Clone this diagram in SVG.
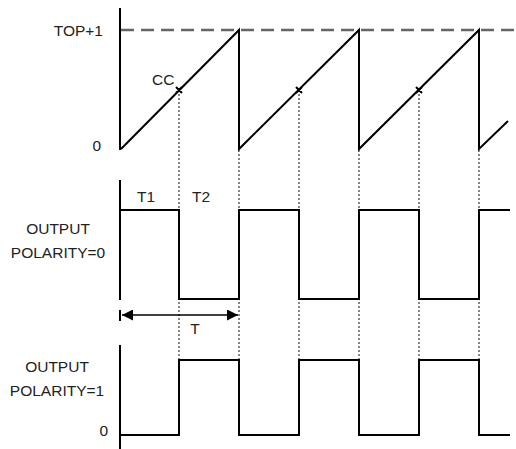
<svg xmlns="http://www.w3.org/2000/svg" width="516" height="449" viewBox="0 0 516 449">
<defs>
<marker id="ah" viewBox="0 0 10 10" refX="10" refY="5" markerWidth="17" markerHeight="11" markerUnits="userSpaceOnUse" orient="auto-start-reverse">
<path d="M0,0 L10,5 L0,10 z" fill="#000"/>
</marker>
<style>
.ax{stroke:#000;stroke-width:2;fill:none}
.wv{stroke:#000;stroke-width:2;fill:none;stroke-linejoin:miter}
.dash{stroke:#666;stroke-width:2.5;stroke-dasharray:13,7;fill:none}
.dot{stroke:#555;stroke-width:1.4;stroke-dasharray:2,2;fill:none}
.tx{font-family:"Liberation Sans",Arial,sans-serif;font-size:15.5px;fill:#222}
</style>
</defs>
<rect width="516" height="449" fill="#fff"/>
<g id="connectors">
<path class="dot" d="M179,90V360 M239,150V360 M299,90V360 M359,150V360 M419,90V360 M479,150V360"/>
<path class="dash" d="M121,30H516"/>
</g>
<g id="axes">
<path class="ax" d="M120,8V150"/>
<path class="ax" d="M120,180V300"/>
<path class="ax" d="M120,345V449"/>
<path class="ax" d="M120,310V321" stroke-width="1.5"/>
</g>
<g id="sawtooth">
<path class="wv" d="M121,149L239,30V149L359,30V149L479,30V149L508,121"/>
<path class="wv" stroke-width="1.3" d="M176,87L182,93M176,93L182,87M296,87L302,93M296,93L302,87M416,87L422,93M416,93L422,87"/>
</g>
<g id="output0">
<path class="wv" d="M120,210H179V299H239V210H299V299H359V210H419V299H479V210H510"/>
</g>
<g id="output1">
<path class="wv" d="M120,435H179V360H239V435H299V360H359V435H419V360H479V435H510"/>
</g>
<g id="period">
<path d="M122,315H238" stroke="#000" stroke-width="1.5" marker-start="url(#ah)" marker-end="url(#ah)"/>
</g>
<g id="labels">
<text class="tx" x="103" y="36" text-anchor="end">TOP+1</text>
<text class="tx" x="101" y="151" text-anchor="end">0</text>
<text class="tx" x="152" y="85">CC</text>
<text class="tx" x="137" y="202">T1</text>
<text class="tx" x="192" y="202">T2</text>
<text class="tx" x="58" y="234" text-anchor="middle">OUTPUT</text>
<text class="tx" x="58" y="258" text-anchor="middle">POLARITY=0</text>
<text class="tx" x="195" y="334" text-anchor="middle">T</text>
<text class="tx" x="57" y="372" text-anchor="middle">OUTPUT</text>
<text class="tx" x="57" y="396" text-anchor="middle">POLARITY=1</text>
<text class="tx" x="108" y="436" text-anchor="end">0</text>
</g>
</svg>
